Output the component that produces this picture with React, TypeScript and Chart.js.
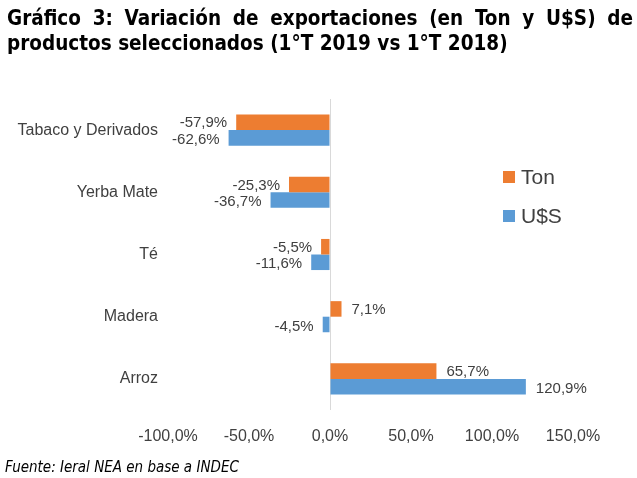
import React, { useEffect, useRef } from "react";
import { Chart, registerables } from "chart.js";

Chart.register(...registerables);

const categories = ["Tabaco y Derivados", "Yerba Mate", "Té", "Madera", "Arroz"];
const tonValues = [-57.9, -25.3, -5.5, 7.1, 65.7];
const usdValues = [-62.6, -36.7, -11.6, -4.5, 120.9];
const seriesNames = ["Ton", "U$S"];
const xTicks = [-100, -50, 0, 50, 100, 150];

const ORANGE = "#ED7D31";
const BLUE = "#5B9BD5";
const TEXT = "#404040";
const AXIS_FONT = '"Liberation Sans", Arial, sans-serif';

const fmt = (v: number) => v.toFixed(1).replace(".", ",") + "%";

const labelsPlugin = {
  id: "barLabels",
  afterDatasetsDraw(chart: any) {
    const ctx = chart.ctx;
    ctx.save();
    ctx.font = `15px ${AXIS_FONT}`;
    ctx.fillStyle = TEXT;
    ctx.textBaseline = "middle";
    chart.data.datasets.forEach((ds: any, di: number) => {
      const meta = chart.getDatasetMeta(di);
      meta.data.forEach((el: any, i: number) => {
        const v = ds.data[i];
        const dy = di === 0 ? 1 : 2;
        if (v >= 0) {
          ctx.textAlign = "left";
          ctx.fillText(fmt(v), el.x + 10, el.y + dy);
        } else {
          ctx.textAlign = "right";
          ctx.fillText(fmt(v), el.x - 9, el.y + dy);
        }
      });
    });
    ctx.restore();
  },
};

const legendPlugin = {
  id: "customLegend",
  afterDraw(chart: any) {
    const ctx = chart.ctx;
    ctx.save();
    ctx.font = `21px ${AXIS_FONT}`;
    ctx.textBaseline = "middle";
    ctx.textAlign = "left";
    chart.data.datasets.forEach((ds: any, di: number) => {
      const y = 177 + di * 39;
      ctx.fillStyle = ds.backgroundColor;
      ctx.fillRect(503, y - 6, 12, 12);
      ctx.fillStyle = TEXT;
      ctx.fillText(ds.label, 521, y + 1);
    });
    ctx.restore();
  },
};

export default function App() {
  const ref = useRef<HTMLCanvasElement | null>(null);
  useEffect(() => {
    if (!ref.current) return;
    const chart = new Chart(ref.current, {
      type: "bar",
      data: {
        labels: categories,
        datasets: [
          { label: seriesNames[0], data: tonValues, backgroundColor: ORANGE, categoryPercentage: 0.5, barPercentage: 1 },
          { label: seriesNames[1], data: usdValues, backgroundColor: BLUE, categoryPercentage: 0.5, barPercentage: 1 },
        ],
      },
      options: {
        indexAxis: "y",
        animation: false,
        responsive: false,
        maintainAspectRatio: false,
        layout: { padding: { top: 99, right: 64, bottom: 0, left: 0 } },
        plugins: { legend: { display: false }, tooltip: { enabled: false } },
        scales: {
          x: {
            min: -100,
            max: 150,
            afterBuildTicks: (axis: any) => {
              axis.ticks = xTicks.map((v) => ({ value: v }));
            },
            afterFit: (axis: any) => {
              axis.height = 68;
            },
            grid: {
              drawTicks: false,
              color: (c: any) => (c.tick && c.tick.value === 0 ? "#D9D9D9" : "rgba(0,0,0,0)"),
            },
            border: { display: false },
            ticks: {
              padding: 17,
              color: TEXT,
              font: { family: AXIS_FONT, size: 16 },
              callback: (v: any) => fmt(Number(v)),
            },
          },
          y: {
            afterFit: (axis: any) => {
              axis.width = 168;
            },
            grid: { display: false, drawTicks: false },
            border: { display: false },
            ticks: {
              padding: 10,
              color: TEXT,
              font: { family: AXIS_FONT, size: 16 },
            },
          },
        },
      },
      plugins: [labelsPlugin, legendPlugin],
    });
    return () => chart.destroy();
  }, []);

  return (
    <div style={{ position: "fixed", left: 0, top: 0, width: 637, height: 478, background: "#fff", overflow: "hidden" }}>
      <canvas ref={ref} width={637} height={478} style={{ position: "absolute", left: 0, top: 0, width: 637, height: 478 }} />
      <div
        style={{
          position: "absolute",
          left: 7,
          top: 6,
          width: 626,
          font: 'bold 20.5px "DejaVu Sans Condensed", "DejaVu Sans", sans-serif',
          lineHeight: "25px",
          color: "#000",
        }}
      >
        <div style={{ textAlign: "justify", textAlignLast: "justify" as any }}>
          Gráfico 3: Variación de exportaciones (en Ton y U$S) de
        </div>
        <div>productos seleccionados (1°T 2019 vs 1°T 2018)</div>
      </div>
      <div
        style={{
          position: "absolute",
          left: 5,
          top: 458,
          font: 'italic 15px "DejaVu Sans Condensed", "DejaVu Sans", sans-serif',
          color: "#000",
          whiteSpace: "nowrap",
        }}
      >
        Fuente: Ieral NEA en base a INDEC
      </div>
    </div>
  );
}
